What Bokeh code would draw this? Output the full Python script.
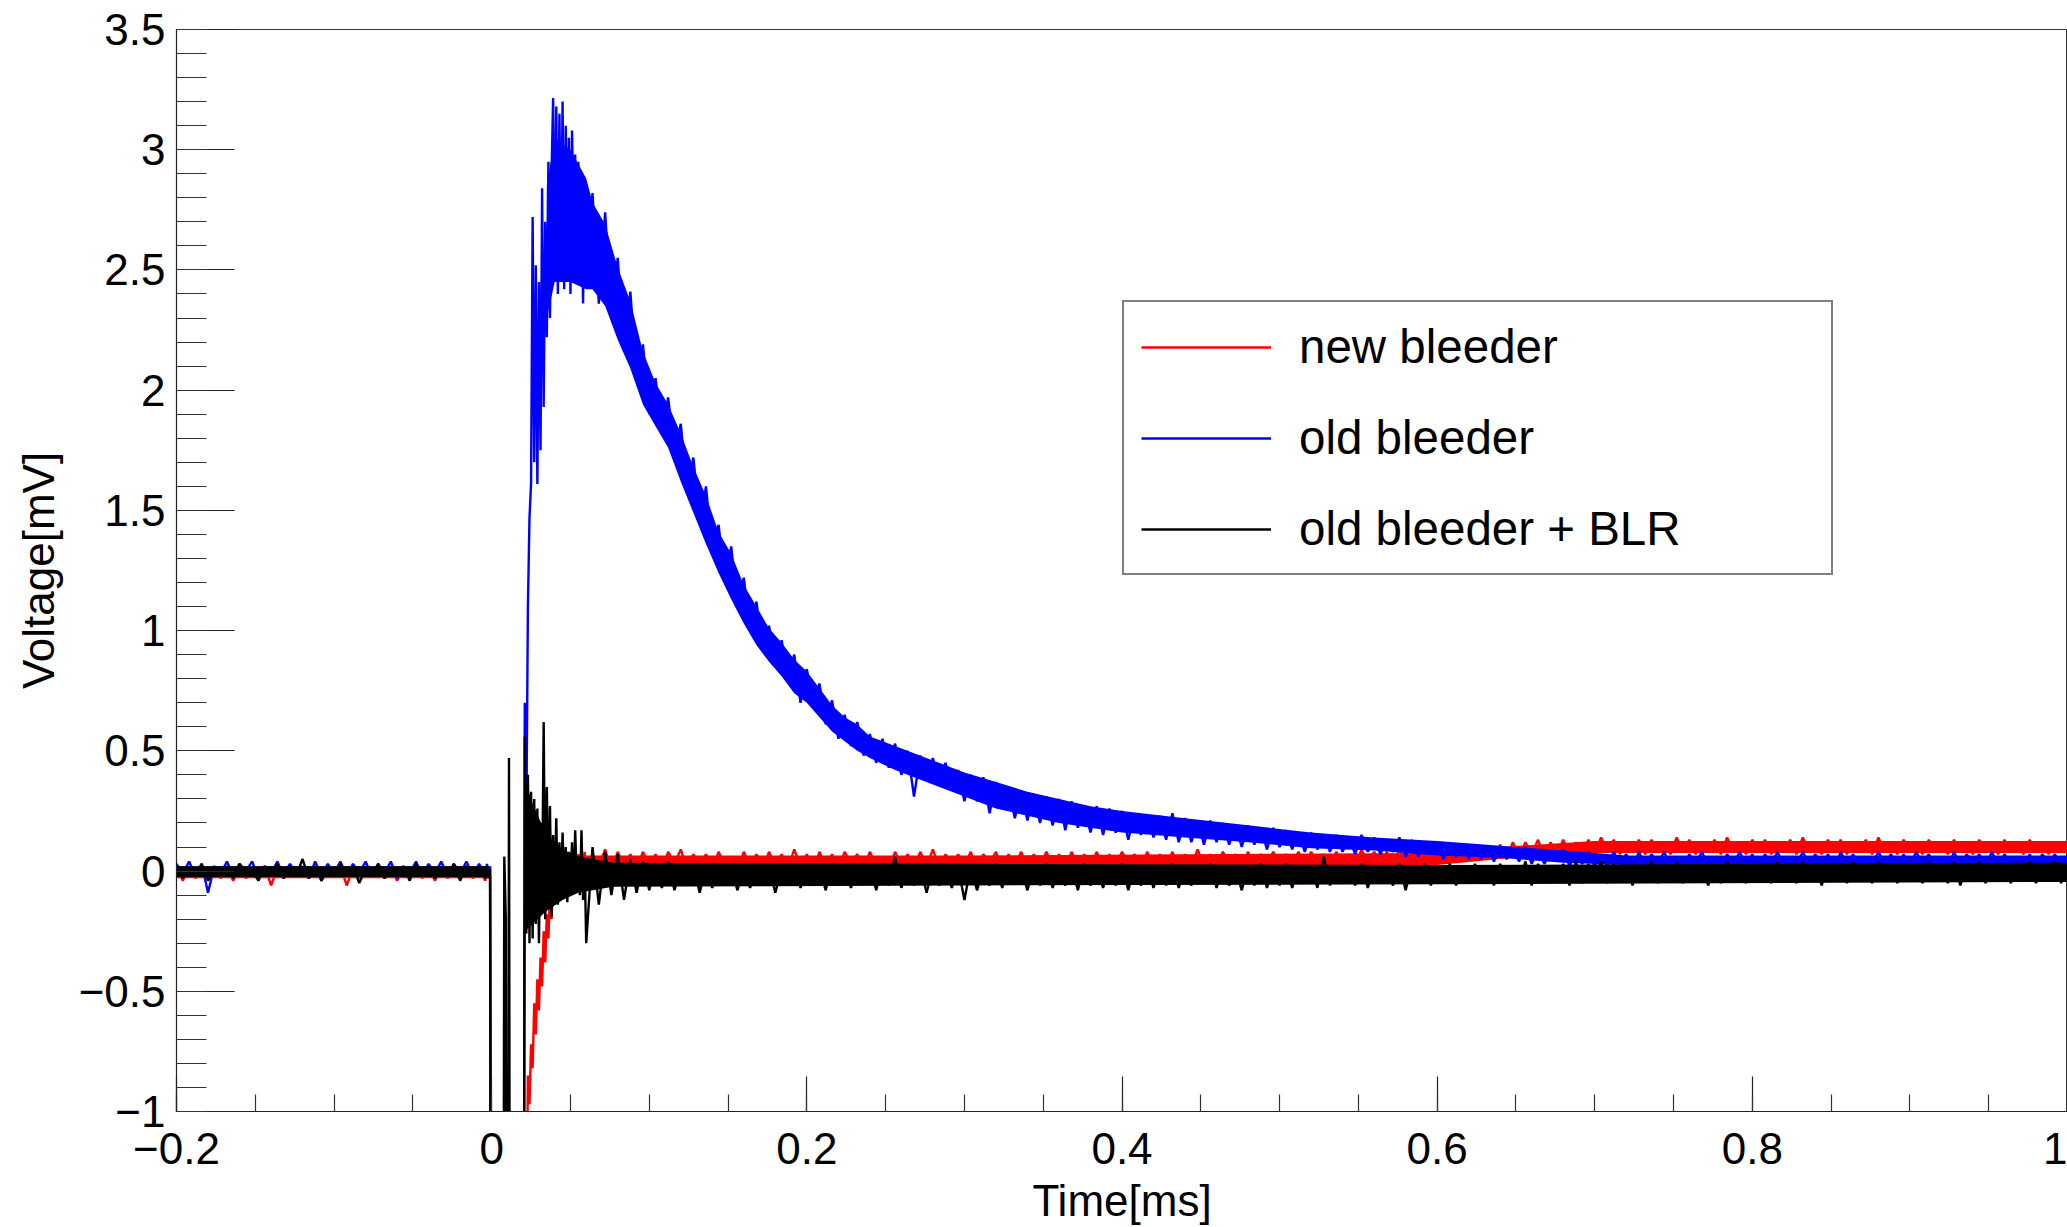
import numpy as np
from bokeh.plotting import figure
from bokeh.models import FixedTicker, CustomJSTickFormatter, Legend, LegendItem
from bokeh.embed import file_html
from bokeh.resources import INLINE

# ---- sample times [ms] : pre-trigger, fast (pulse) region, tail ----
t_pre = np.round(-0.2 + 0.004 * np.arange(50), 4)
t_fast = np.round(-0.003 + 0.001 * np.arange(64), 4)
t_tail = np.round(0.064 + 0.004 * np.arange(235), 4)
time_ms = np.concatenate([t_pre, t_fast, t_tail])

# ---- new bleeder (red) [mV] ----
new_pre = [0.01, -0.04, 0.02, -0.03, 0.01, -0.02, 0.02, -0.03, 0.01, -0.04,
           0.02, -0.03, 0.01, -0.02, 0.02, -0.06, 0.01, -0.03, 0.02, -0.02,
           0.01, -0.03, 0.02, -0.04, 0.01, -0.02, 0.02, -0.06, 0.01, -0.03,
           0.02, -0.02, 0.01, -0.03, 0.02, -0.04, 0.01, -0.02, 0.02, -0.03,
           0.01, -0.04, 0.02, -0.03, 0.01, -0.02, 0.02, -0.03, 0.01, -0.04]
new_fast = [0.00, 0.02, -0.02,
            -4, -4, -4, -4, -4, -4, -4, -4, -4, -4, -4, -4, -4, -4, -4, -4, -4, -4, -4, -4, -4, -4,
            -1.6, -0.85, -0.97, -0.72, -0.82, -0.55, -0.68, -0.45, -0.58, -0.36,
            -0.48, -0.25, -0.38, -0.18, -0.28, -0.09, -0.20, -0.05, -0.14, 0.00,
            -0.08, 0.03, -0.05, 0.05, -0.02, 0.06, 0.00, 0.07, 0.01, 0.06,
            0.02, 0.08, 0.02, 0.07, 0.03, 0.08, 0.02]
new_tail = [0.08, 0.01, 0.07, 0.02, 0.09, 0.00, 0.08, 0.02, 0.07, 0.01,
            0.08, 0.02, 0.07, 0.00, 0.08, 0.03, 0.09, 0.01, 0.07, 0.02,
            0.07, 0.01, 0.08, 0.02, 0.06, 0.00, 0.08, 0.02, 0.07, 0.01,
            0.08, 0.02, 0.07, 0.01, 0.09, 0.02, 0.07, 0.00, 0.08, 0.02,
            0.07, 0.01, 0.08, 0.03, 0.07, 0.01, 0.08, 0.02, 0.06, 0.01,
            0.08, 0.02, 0.07, 0.01, 0.08, 0.02, 0.09, 0.01, 0.07, 0.02,
            0.07, 0.02, 0.08, 0.01, 0.07, 0.03, 0.08, 0.01, 0.07, 0.02,
            0.08, 0.01, 0.07, 0.02, 0.08, 0.02, 0.07, 0.01, 0.08, 0.02,
            0.07, 0.02, 0.08, 0.01, 0.07, 0.02, 0.08, 0.03, 0.07, 0.01,
            0.08, 0.02, 0.07, 0.02, 0.08, 0.01, 0.07, 0.02, 0.09, 0.02,
            0.07, 0.02, 0.08, 0.03, 0.07, 0.02, 0.08, 0.01, 0.07, 0.03,
            0.08, 0.02, 0.07, 0.03, 0.08, 0.02, 0.08, 0.03, 0.07, 0.02,
            0.08, 0.03, 0.07, 0.02, 0.09, 0.03, 0.08, 0.02, 0.08, 0.03,
            0.09, 0.03, 0.08, 0.04, 0.09, 0.03, 0.10, 0.04, 0.09, 0.04,
            0.10, 0.05, 0.11, 0.05, 0.10, 0.06, 0.11, 0.05, 0.12, 0.06,
            0.12, 0.07, 0.13, 0.06, 0.12, 0.07, 0.13, 0.07, 0.12, 0.07,
            0.13, 0.07, 0.14, 0.08, 0.13, 0.07, 0.12, 0.08, 0.13, 0.07,
            0.13, 0.08, 0.12, 0.07, 0.14, 0.08, 0.13, 0.07, 0.12, 0.08,
            0.13, 0.07, 0.14, 0.08, 0.12, 0.07, 0.13, 0.08, 0.13, 0.07,
            0.12, 0.08, 0.13, 0.07, 0.14, 0.08, 0.12, 0.07, 0.13, 0.08,
            0.13, 0.07, 0.12, 0.08, 0.13, 0.07, 0.14, 0.08, 0.12, 0.07,
            0.13, 0.08, 0.12, 0.07, 0.13, 0.08, 0.12, 0.07, 0.13, 0.08,
            0.12, 0.07, 0.13, 0.08, 0.12, 0.07, 0.13, 0.08, 0.12, 0.07,
            0.13, 0.08, 0.12, 0.07, 0.12]

# ---- old bleeder (blue) [mV] ----
old_pre = [0.03, -0.01, 0.04, -0.02, 0.03, -0.09, 0.02, -0.01, 0.04, -0.02,
           0.03, 0.00, 0.04, -0.03, 0.02, -0.01, 0.04, -0.02, 0.03, -0.01,
           0.02, -0.03, 0.04, -0.02, 0.03, -0.01, 0.04, -0.02, 0.03, -0.01,
           0.04, -0.02, 0.03, -0.01, 0.04, -0.03, 0.02, -0.01, 0.04, -0.02,
           0.03, -0.01, 0.04, -0.02, 0.03, -0.01, 0.04, -0.02, 0.03, -0.01]
old_fast = [0.03, -0.02, 0.02,
            -4, -4, -4, -4, -4, -4, -4, -4, -4, -4, -4, -4, -4, -4, -4, -4, -4, -4, -4, -4, -4,
            0.70, 0.20, 1.10, 1.47, 1.61, 2.72, 1.70, 2.52, 1.61, 2.45,
            1.75, 2.84, 1.93, 2.70, 2.22, 2.95, 2.30, 2.90, 3.215, 2.60,
            3.18, 2.40, 3.15, 2.55, 3.20, 2.42, 3.10, 2.60, 3.05, 2.40,
            3.08, 2.70, 2.98, 2.45, 2.95, 2.60, 2.90, 2.36, 2.88, 2.55]
old_tail = [2.82, 2.36, 2.74, 2.31, 2.55, 2.16, 2.41, 2.04, 2.19, 1.90,
            2.05, 1.82, 1.97, 1.73, 1.86, 1.58, 1.72, 1.45, 1.60, 1.32,
            1.44, 1.21, 1.35, 1.10, 1.22, 1.00, 1.12, 0.92, 1.02, 0.86,
            0.96, 0.80, 0.90, 0.70, 0.84, 0.69, 0.78, 0.61, 0.71, 0.55,
            0.65, 0.52, 0.62, 0.48, 0.57, 0.45, 0.55, 0.43, 0.53, 0.40,
            0.50, 0.31, 0.48, 0.38, 0.47, 0.36, 0.45, 0.34, 0.42, 0.29,
            0.40, 0.29, 0.39, 0.24, 0.37, 0.26, 0.34, 0.22, 0.33, 0.21,
            0.32, 0.20, 0.31, 0.19, 0.30, 0.17, 0.29, 0.18, 0.27, 0.16,
            0.27, 0.15, 0.26, 0.16, 0.25, 0.13, 0.24, 0.15, 0.23, 0.14,
            0.23, 0.13, 0.24, 0.12, 0.22, 0.12, 0.21, 0.11, 0.21, 0.12,
            0.20, 0.11, 0.19, 0.10, 0.19, 0.11, 0.18, 0.09, 0.18, 0.10,
            0.17, 0.09, 0.16, 0.08, 0.16, 0.09, 0.15, 0.08, 0.15, 0.08,
            0.14, 0.07, 0.15, 0.08, 0.14, 0.07, 0.13, 0.08, 0.14, 0.06,
            0.13, 0.06, 0.12, 0.07, 0.12, 0.05, 0.11, 0.06, 0.11, 0.05,
            0.11, 0.05, 0.10, 0.04, 0.10, 0.05, 0.09, 0.04, 0.10, 0.03,
            0.09, 0.03, 0.08, 0.04, 0.09, 0.02, 0.08, 0.03, 0.08, 0.02,
            0.07, 0.02, 0.08, 0.03, 0.07, 0.01, 0.08, 0.02, 0.07, 0.03,
            0.08, 0.02, 0.06, 0.01, 0.07, 0.03, 0.08, 0.02, 0.06, 0.02,
            0.07, 0.03, 0.08, 0.02, 0.07, 0.01, 0.07, 0.03, 0.08, 0.02,
            0.06, 0.02, 0.08, 0.03, 0.07, 0.02, 0.07, -0.01, 0.08, 0.03,
            0.07, 0.02, 0.06, 0.02, 0.08, 0.03, 0.07, 0.01, 0.07, 0.02,
            0.08, 0.03, 0.07, 0.02, 0.06, 0.01, 0.08, 0.02, 0.07, 0.03,
            0.07, 0.02, 0.08, 0.02, 0.07, 0.03, 0.06, 0.01, 0.07, 0.02,
            0.07, 0.03, 0.07, 0.02, 0.06]

# ---- old bleeder + BLR (black) [mV] ----
blr_pre = [0.02, -0.03, 0.01, -0.02, 0.03, -0.04, 0.01, -0.01, 0.02, -0.03,
           0.03, -0.02, 0.00, -0.04, 0.02, -0.01, 0.03, -0.03, 0.01, -0.02,
           0.05, -0.03, 0.02, -0.04, 0.01, -0.02, 0.03, -0.01, 0.02, -0.05,
           0.01, -0.02, 0.03, -0.03, 0.00, -0.02, 0.02, -0.04, 0.03, -0.01,
           0.02, -0.03, 0.01, -0.02, 0.03, -0.04, 0.02, -0.01, 0.01, -0.03]
blr_fast = [0.02, -0.03, 0.01,
            -4, -4, -4, -4, -4, -4, -4, -4,
            0.06, -0.20, -4, 0.47,
            -4, -4, -4, -4, -4, -4, -4, -4, -4,
            0.56, -0.26, 0.40, -0.30, 0.33, -0.28, 0.30, -0.22, 0.26, -0.30,
            0.20, -0.12, 0.62, -0.20, 0.35, -0.12, 0.27, -0.19, 0.15, -0.08,
            0.22, -0.14, 0.12, -0.10, 0.16, -0.06, 0.10, -0.13, 0.08, -0.05,
            0.12, -0.08, 0.17, -0.04, 0.06, -0.10, 0.17, -0.12, 0.04, -0.30]
blr_tail = [0.10, -0.14, 0.08, -0.10, 0.07, -0.12, 0.05, -0.09, 0.04, -0.08,
            0.03, -0.07, 0.04, -0.08, 0.02, -0.06, 0.03, -0.09, 0.02, -0.07,
            0.03, -0.06, 0.01, -0.08, 0.02, -0.07, 0.03, -0.05, 0.02, -0.09,
            0.01, -0.06, 0.03, -0.07, 0.02, -0.06, 0.01, -0.08, 0.03, -0.06,
            0.02, -0.07, 0.01, -0.05, 0.03, -0.08, 0.02, -0.06, 0.06, -0.07,
            0.03, -0.06, 0.02, -0.09, 0.02, -0.06, 0.01, -0.07, 0.02, -0.12,
            0.02, -0.08, 0.01, -0.06, 0.03, -0.07, 0.02, -0.05, 0.01, -0.08,
            0.02, -0.06, 0.03, -0.07, 0.01, -0.06, 0.02, -0.08, 0.03, -0.06,
            0.01, -0.07, 0.02, -0.06, 0.03, -0.08, 0.02, -0.06, 0.01, -0.07,
            0.02, -0.06, 0.03, -0.07, 0.01, -0.06, 0.02, -0.05, 0.03, -0.07,
            0.02, -0.06, 0.01, -0.08, 0.02, -0.06, 0.03, -0.07, 0.02, -0.06,
            0.03, -0.07, 0.02, -0.05, 0.01, -0.07, 0.06, -0.06, 0.02, -0.05,
            0.02, -0.06, 0.03, -0.07, 0.02, -0.05, 0.01, -0.06, 0.03, -0.08,
            0.02, -0.05, 0.03, -0.06, 0.02, -0.05, 0.03, -0.06, 0.02, -0.05,
            0.03, -0.05, 0.02, -0.06, 0.03, -0.04, 0.02, -0.05, 0.04, -0.06,
            0.03, -0.05, 0.02, -0.04, 0.03, -0.06, 0.04, -0.05, 0.03, -0.04,
            0.04, -0.05, 0.03, -0.04, 0.02, -0.06, 0.03, -0.04, 0.04, -0.05,
            0.03, -0.04, 0.04, -0.05, 0.03, -0.04, 0.02, -0.06, 0.03, -0.05,
            0.04, -0.04, 0.03, -0.05, 0.02, -0.04, 0.03, -0.05, 0.04, -0.04,
            0.03, -0.05, 0.04, -0.04, 0.03, -0.06, 0.02, -0.04, 0.03, -0.05,
            0.04, -0.04, 0.03, -0.05, 0.04, -0.04, 0.02, -0.05, 0.03, -0.04,
            0.03, -0.05, 0.04, -0.04, 0.03, -0.05, 0.04, -0.06, 0.03, -0.04,
            0.04, -0.05, 0.03, -0.04, 0.02, -0.05, 0.03, -0.04, 0.04, -0.05,
            0.03, -0.04, 0.04, -0.05, 0.03]

new_bleeder = new_pre + new_fast + new_tail
old_bleeder = old_pre + old_fast + old_tail
old_bleeder_blr = blr_pre + blr_fast + blr_tail

# ---- dense core of each noise band (lower / upper edge) ----
base_band_t = [-0.2, -0.1, -0.002]
new_base_lo = [-0.03, -0.03, -0.03]
new_base_hi = [0.01, 0.01, 0.01]
old_base_lo = [-0.02, -0.02, -0.02]
old_base_hi = [0.02, 0.02, 0.02]
blr_base_lo = [-0.025, -0.025, -0.025]
blr_base_hi = [0.02, 0.02, 0.02]

new_band_t = [0.05, 0.3, 0.6, 0.64, 0.7, 1.0]
new_band_lo = [0.02, 0.02, 0.025, 0.05, 0.075, 0.075]
new_band_hi = [0.065, 0.065, 0.075, 0.1, 0.125, 0.125]

old_band_t = [0.035, 0.04, 0.05, 0.06, 0.064, 0.072, 0.08, 0.088, 0.096, 0.104,
              0.112, 0.12, 0.128, 0.136, 0.144, 0.152, 0.16, 0.168, 0.176, 0.184,
              0.192, 0.2, 0.208, 0.216, 0.224, 0.232, 0.24, 0.256, 0.28, 0.3,
              0.32, 0.34, 0.36, 0.38, 0.4, 0.44, 0.48, 0.52, 0.56, 0.6,
              0.64, 0.68, 0.72, 1.0]
old_band_lo = [2.3, 2.45, 2.45, 2.42, 2.42, 2.35, 2.21, 2.09, 1.94, 1.85,
               1.76, 1.62, 1.49, 1.36, 1.24, 1.13, 1.03, 0.94, 0.87, 0.81,
               0.74, 0.70, 0.64, 0.58, 0.54, 0.50, 0.47, 0.42, 0.36, 0.31,
               0.26, 0.23, 0.20, 0.18, 0.16, 0.14, 0.12, 0.095, 0.085, 0.065,
               0.055, 0.035, 0.025, 0.025]
old_band_hi = [2.85, 3.05, 3.0, 2.88, 2.78, 2.69, 2.51, 2.37, 2.16, 2.03,
               1.94, 1.82, 1.68, 1.56, 1.41, 1.32, 1.19, 1.10, 1.01, 0.95,
               0.88, 0.83, 0.76, 0.69, 0.64, 0.61, 0.56, 0.52, 0.46, 0.41,
               0.37, 0.33, 0.30, 0.27, 0.25, 0.22, 0.19, 0.16, 0.14, 0.125,
               0.105, 0.085, 0.065, 0.065]

blr_band_t = [0.021, 0.026, 0.034, 0.045, 0.055, 0.077, 0.3, 0.6, 1.0]
blr_band_lo = [-0.25, -0.22, -0.17, -0.12, -0.09, -0.065, -0.06, -0.055, -0.045]
blr_band_hi = [0.38, 0.28, 0.16, 0.09, 0.06, 0.035, 0.03, 0.025, 0.035]

series_labels = ["new bleeder", "old bleeder", "old bleeder + BLR"]
series_colors = ["#ff0000", "#0000ff", "#000000"]

x_major = [-0.2, 0, 0.2, 0.4, 0.6, 0.8, 1.0]
y_major = [-1, -0.5, 0, 0.5, 1, 1.5, 2, 2.5, 3, 3.5]

FONT = "Liberation Sans"

p = figure(width=2067, height=1227, x_range=(-0.2, 1.0), y_range=(-1, 3.5),
           output_backend="svg", toolbar_location=None,
           min_border_left=176, min_border_right=0, min_border_top=29, min_border_bottom=116,
           background_fill_color="white", border_fill_color="white")
p.xgrid.visible = False
p.ygrid.visible = False
p.outline_line_color = "#333333"
p.outline_line_width = 1

series = [
    (new_bleeder, new_base_lo, new_base_hi, new_band_t, new_band_lo, new_band_hi),
    (old_bleeder, old_base_lo, old_base_hi, old_band_t, old_band_lo, old_band_hi),
    (old_bleeder_blr, blr_base_lo, blr_base_hi, blr_band_t, blr_band_lo, blr_band_hi),
]

renderers = []
for (ys, blo, bhi, bt, lo, hi), col in zip(series, series_colors):
    p.varea(x=base_band_t, y1=blo, y2=bhi, fill_color=col)
    p.varea(x=bt, y1=lo, y2=hi, fill_color=col)
    r = p.line(time_ms, ys, line_color=col, line_width=2.4)
    renderers.append(r)

fmt = CustomJSTickFormatter(code="return String(tick).replace('-', '\u2212');")

xa = p.xaxis[0]
xa.ticker = FixedTicker(ticks=x_major,
                        minor_ticks=np.round(np.arange(-0.2, 1.0001, 0.05), 3).tolist())
xa.formatter = fmt
xa.major_tick_in = 35
xa.major_tick_out = 0
xa.minor_tick_in = 17
xa.minor_tick_out = 0
xa.axis_label = "Time[ms]"
xa.major_label_standoff = 21
xa.axis_label_standoff = 9

ya = p.yaxis[0]
ya.ticker = FixedTicker(ticks=y_major,
                        minor_ticks=np.round(np.arange(-1, 3.5001, 0.1), 2).tolist())
ya.formatter = fmt
ya.major_tick_in = 58
ya.major_tick_out = 0
ya.minor_tick_in = 30
ya.minor_tick_out = 0
ya.axis_label = "Voltage[mV]"
ya.major_label_standoff = 11
ya.axis_label_standoff = 13
ya.major_label_orientation = "horizontal"

for ax in (xa, ya):
    ax.axis_line_color = "#222222"
    ax.axis_line_width = 1.2
    ax.major_tick_line_color = "#222222"
    ax.minor_tick_line_color = "#333333"
    ax.major_tick_line_width = 1.2
    ax.minor_tick_line_width = 1.2
    ax.major_label_text_font = FONT
    ax.major_label_text_font_size = "44px"
    ax.major_label_text_color = "black"
    ax.axis_label_text_font = FONT
    ax.axis_label_text_font_size = "44px"
    ax.axis_label_text_font_style = "normal"
    ax.axis_label_text_color = "black"

legend = Legend(items=[LegendItem(label=lab, renderers=[r])
                       for lab, r in zip(series_labels, renderers)],
                location=(946, 536),
                border_line_color="black", border_line_width=2,
                background_fill_color="white", background_fill_alpha=1.0,
                padding=17, spacing=36, margin=0,
                label_height=50, glyph_height=50, glyph_width=130,
                label_standoff=28, label_width=515,
                label_text_font=FONT, label_text_font_size="47.5px",
                label_text_color="black")
p.add_layout(legend)

open("out.html", "w").write(file_html(p, INLINE))
